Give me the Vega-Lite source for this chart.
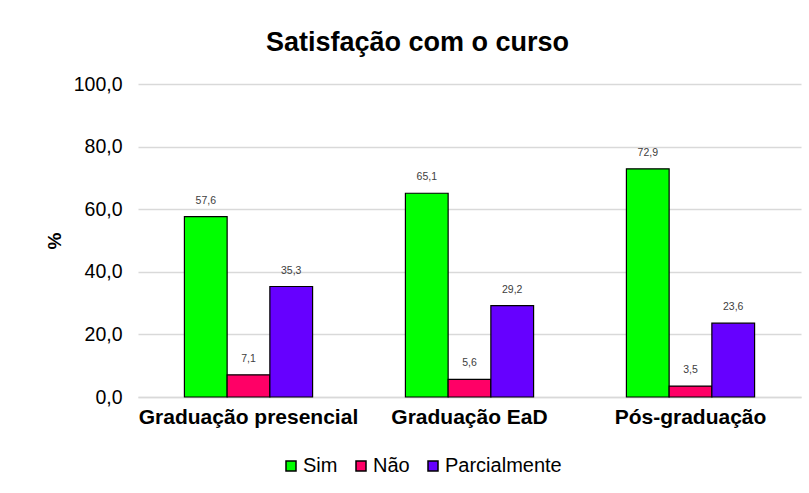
{
  "$schema": "https://vega.github.io/schema/vega-lite/v6.json",
  "width": 663,
  "height": 313,
  "autosize": "none",
  "padding": {"left": 138, "top": 84, "right": 8, "bottom": 96},
  "background": "white",
  "title": {"text": "Satisfação com o curso", "font": "Liberation Sans", "fontSize": 27, "fontWeight": "bold", "color": "#000000", "anchor": "middle", "dx": -52, "offset": 17},
  "config": {
    "locale": {"number": {"decimal": ",", "thousands": ".", "grouping": [3], "currency": ["R$", ""]}},
    "view": {"stroke": null},
    "font": "Liberation Sans"
  },
  "data": {"values": [
    {"grupo": "Graduação presencial", "resp": "Sim", "valor": 57.6},
    {"grupo": "Graduação presencial", "resp": "Não", "valor": 7.1},
    {"grupo": "Graduação presencial", "resp": "Parcialmente", "valor": 35.3},
    {"grupo": "Graduação EaD", "resp": "Sim", "valor": 65.1},
    {"grupo": "Graduação EaD", "resp": "Não", "valor": 5.6},
    {"grupo": "Graduação EaD", "resp": "Parcialmente", "valor": 29.2},
    {"grupo": "Pós-graduação", "resp": "Sim", "valor": 72.9},
    {"grupo": "Pós-graduação", "resp": "Não", "valor": 3.5},
    {"grupo": "Pós-graduação", "resp": "Parcialmente", "valor": 23.6}
  ]},
  "encoding": {
    "x": {"field": "grupo", "type": "nominal", "sort": ["Graduação presencial", "Graduação EaD", "Pós-graduação"],
      "scale": {"paddingInner": 0.42, "paddingOuter": 0.21},
      "axis": {"title": null, "labelAngle": 0, "labelFontSize": 21, "labelFontWeight": "bold", "labelColor": "#000000", "labelLimit": 0, "labelOverlap": false, "ticks": false, "domainColor": "#d9d9d9", "domainWidth": 1.5, "labelPadding": 9}},
    "xOffset": {"field": "resp", "type": "nominal", "sort": ["Sim", "Não", "Parcialmente"]},
    "y": {"field": "valor", "type": "quantitative",
      "scale": {"domain": [0, 100]},
      "axis": {"title": "%", "titleFontSize": 19, "titleFontWeight": "bold", "titleColor": "#000000", "titlePadding": 9,
        "values": [0, 20, 40, 60, 80, 100], "format": ".1f", "labelFontSize": 19.5, "labelColor": "#000000", "labelPadding": 16,
        "ticks": false, "domain": false, "gridColor": "#d9d9d9", "gridWidth": 1.5}}
  },
  "layer": [
    {
      "mark": {"type": "bar", "stroke": "#000000", "strokeWidth": 1.2},
      "encoding": {
        "color": {"field": "resp", "type": "nominal", "sort": ["Sim", "Não", "Parcialmente"],
          "scale": {"domain": ["Sim", "Não", "Parcialmente"], "range": ["#00ff00", "#ff0066", "#6600ff"]},
          "legend": {"title": null, "orient": "none", "direction": "horizontal", "legendX": 143, "legendY": 372,
            "symbolType": "square", "symbolSize": 100, "symbolStrokeColor": "#000000", "symbolStrokeWidth": 1.5,
            "labelFontSize": 20, "labelColor": "#000000", "columnPadding": 13, "labelOffset": 2}}
      }
    },
    {
      "mark": {"type": "text", "dy": -11, "fontSize": 10.5, "color": "#404040", "baseline": "bottom"},
      "encoding": {"text": {"field": "valor", "type": "quantitative", "format": ".1f"}}
    }
  ]
}
